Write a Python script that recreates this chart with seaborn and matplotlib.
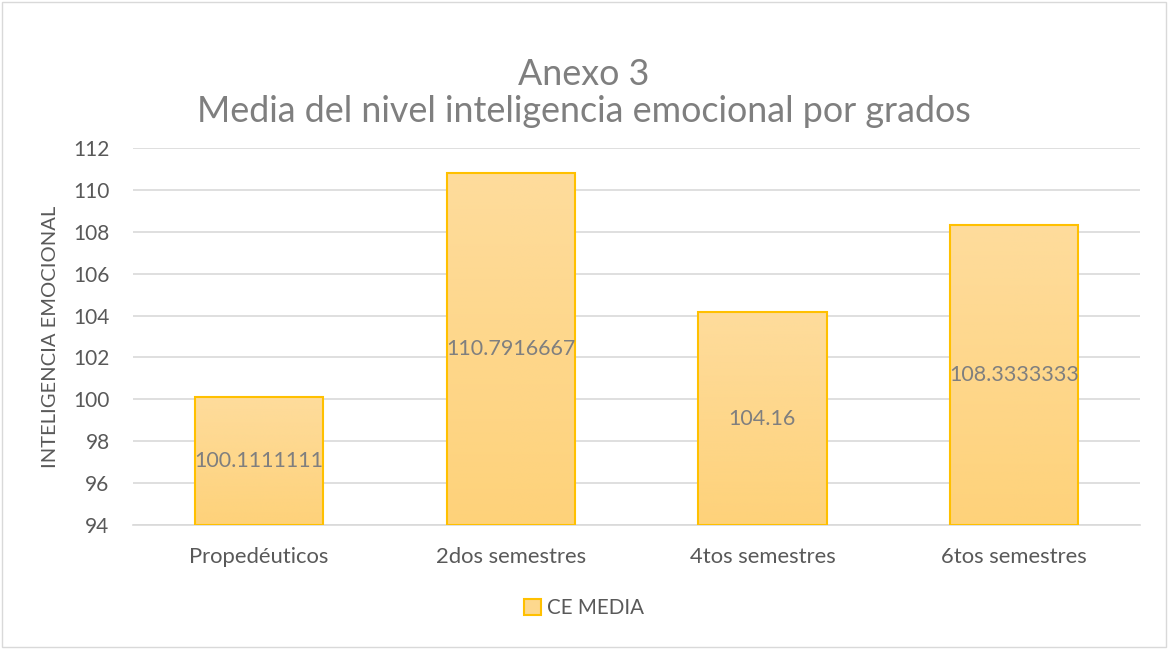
import matplotlib
matplotlib.use("Agg")
import matplotlib.pyplot as plt
import seaborn as sns
import numpy as np
import pandas as pd
from matplotlib.colors import LinearSegmentedColormap
from matplotlib.patches import Patch, Rectangle

categories = ['Propedéuticos', '2dos semestres', '4tos semestres', '6tos semestres']
ce_media = [100.1111111, 110.7916667, 104.16, 108.3333333]
value_labels = ['100.1111111', '110.7916667', '104.16', '108.3333333']
y_ticks = [94, 96, 98, 100, 102, 104, 106, 108, 110, 112]
y_min, y_max = 94, 112

sns.set_theme(style='white')
plt.rcParams['font.family'] = ['Lato', 'DejaVu Sans']

gray = '#7f7f7f'
dark = '#595959'
edge = '#ffc000'

df = pd.DataFrame({'grado': categories, 'media': ce_media})

fig = plt.figure(figsize=(11.68, 6.49), dpi=100)
ax = fig.add_axes([0.114, 0.191, 0.862, 0.581])

sns.barplot(data=df, x='grado', y='media', ax=ax, color='#fdd88e',
            width=0.51, linewidth=0, zorder=3)

# gradient fill (lighter top, deeper bottom), starting at the axis floor
cmap = LinearSegmentedColormap.from_list('g', ['#fed27a', '#fedc9c'])
grad = np.linspace(0, 1, 256).reshape(-1, 1)
for bar in ax.patches:
    x0, w, top = bar.get_x(), bar.get_width(), bar.get_height()
    ax.imshow(grad, cmap=cmap, aspect='auto', origin='lower',
              extent=[x0, x0 + w, y_min, top], zorder=3.5)
    ax.add_patch(Rectangle((x0, y_min), w, top - y_min, fill=False,
                           edgecolor=edge, linewidth=1.5, zorder=4))
ax.set_xlim(-0.5, 3.5)
ax.set_ylim(y_min, y_max)
ax.set_yticks(y_ticks)

for i, (v, lab) in enumerate(zip(ce_media, value_labels)):
    ax.text(i, (y_min + v) / 2, lab, ha='center', va='center',
            fontsize=15.5, color=gray, zorder=5)

ax.grid(axis='y', color='#d9d9d9', linewidth=1.2, zorder=0)
for s in ['top', 'right', 'left']:
    ax.spines[s].set_visible(False)
ax.spines['bottom'].set_color('#d9d9d9')
ax.spines['bottom'].set_linewidth(1.2)
ax.tick_params(axis='y', length=0, labelsize=15, labelcolor=dark, pad=17)
ax.tick_params(axis='x', length=0, labelsize=15.8, labelcolor=dark, pad=16)
ax.set_xlabel('')
ax.set_ylabel('INTELIGENCIA EMOCIONAL', fontsize=14.5, color=dark, labelpad=10)

fig.text(0.5, 0.885, 'Anexo 3', ha='center', va='center', fontsize=25.8, color=gray)
fig.text(0.5, 0.828, 'Media del nivel inteligencia emocional por grados',
         ha='center', va='center', fontsize=25.8, color=gray)

handle = Patch(facecolor='#fdd88e', edgecolor=edge, linewidth=1.5)
fig.legend([handle], ['CE MEDIA'], loc='center', bbox_to_anchor=(0.5, 0.063),
           frameon=False, fontsize=14.8, labelcolor=dark, handlelength=0.8,
           handleheight=0.8, handletextpad=0.3)

fig.patches.append(Rectangle((0.002, 0.003), 0.996, 0.994, transform=fig.transFigure,
                             fill=False, edgecolor='#d9d9d9', linewidth=1))

fig.savefig('out.png', dpi=100)
